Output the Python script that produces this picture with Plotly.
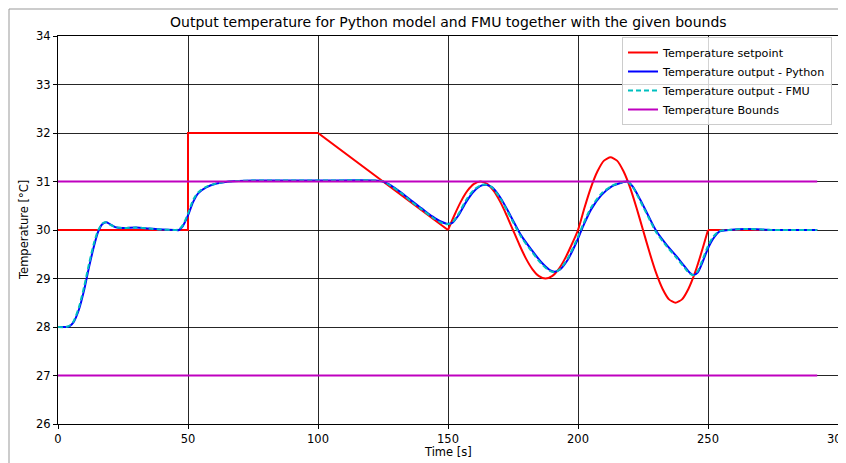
import plotly.graph_objects as go

# ---- data ----
t_set_a = [0, 50, 50, 100, 150]
y_set_a = [30, 30, 32, 32, 30]
t_set_b = [150, 152.5, 155, 157.5, 160, 162.5, 165, 167.5, 170, 172.5, 175,
           177.5, 180, 182.5, 185, 187.5, 190, 192.5, 195, 197.5, 200, 202.5, 205, 207.5, 210,
           212.5, 215, 217.5, 220, 222.5, 225, 227.5, 230, 232.5, 235, 237.5, 240, 242.5, 245,
           247.5, 250]
y_set_b = [30, 30.31, 30.59, 30.81, 30.95, 31.0, 30.95, 30.81, 30.59, 30.31, 30.0,
           29.69, 29.41, 29.19, 29.05, 29.0, 29.05, 29.19, 29.41, 29.69, 30.0, 30.46, 30.88, 31.21,
           31.43, 31.5, 31.43, 31.21, 30.88, 30.46, 30.0, 29.54, 29.12, 28.79, 28.57, 28.5, 28.57,
           28.79, 29.12, 29.54, 30.0]
t_set_c = [250, 292]
y_set_c = [30, 30]

t_py = [0, 3, 4.5, 6, 8, 10, 12, 14, 15.5, 17, 18.5, 20, 22, 25, 30, 35, 40, 45, 46.5, 48, 50,
        52, 54, 57, 61, 66, 75, 100, 122, 125, 128, 132, 136, 140, 144, 147, 149.5, 151.5, 154,
        157, 160, 163, 165, 167, 170, 174, 178, 182, 186, 189, 191, 193, 196, 199, 202, 205,
        209, 213, 217, 219, 221, 224, 227, 230, 234, 238, 241, 243, 244.5, 246, 248, 250, 252,
        254.5, 258, 265, 275, 292]
y_py = [28.0, 28.0, 28.02, 28.1, 28.35, 28.75, 29.25, 29.7, 29.97, 30.12, 30.16, 30.12, 30.06,
        30.04, 30.05, 30.03, 30.01, 30.0, 30.0, 30.08, 30.3, 30.58, 30.76, 30.88, 30.96, 31.0,
        31.02, 31.02, 31.02, 31.0, 30.92, 30.77, 30.6, 30.44, 30.28, 30.18, 30.13, 30.14, 30.3,
        30.58, 30.8, 30.92, 30.93, 30.88, 30.68, 30.3, 29.9, 29.6, 29.33, 29.18, 29.14, 29.18,
        29.38, 29.7, 30.08, 30.42, 30.72, 30.9, 30.98, 31.0, 30.9, 30.62, 30.3, 29.99, 29.7,
        29.45, 29.25, 29.12, 29.07, 29.12, 29.35, 29.62, 29.82, 29.97, 30.0, 30.02, 30.0, 30.0]

t_fmu = t_py
y_fmu = [28.0, 28.0, 28.03, 28.12, 28.4, 28.82, 29.32, 29.76, 30.0, 30.13, 30.16, 30.11, 30.06,
         30.04, 30.05, 30.03, 30.01, 30.0, 30.01, 30.1, 30.34, 30.62, 30.78, 30.89, 30.96, 31.0,
         31.02, 31.02, 31.02, 31.0, 30.91, 30.76, 30.58, 30.42, 30.26, 30.16, 30.12, 30.15, 30.33,
         30.62, 30.83, 30.93, 30.93, 30.87, 30.66, 30.27, 29.87, 29.57, 29.3, 29.16, 29.13, 29.19,
         29.41, 29.74, 30.12, 30.46, 30.75, 30.91, 30.99, 31.0, 30.89, 30.59, 30.27, 29.96, 29.67,
         29.42, 29.22, 29.1, 29.07, 29.15, 29.4, 29.67, 29.86, 29.98, 30.0, 30.02, 30.0, 30.0]

t_bounds = [0, 292]
upper_bound = [31, 31]
lower_bound = [27, 27]

x_ticks = [0, 50, 100, 150, 200, 250, 300]
y_ticks = [26, 27, 28, 29, 30, 31, 32, 33, 34]

FONT = "DejaVu Sans"
RED, BLUE, CYAN, MAG = "#ff0000", "#0000ff", "#00bfbf", "#bf00bf"

fig = go.Figure()
fig.add_trace(go.Scatter(x=t_set_a, y=y_set_a, mode="lines", name="Temperature setpoint",
                         legendgroup="sp", line=dict(color=RED, width=2)))
fig.add_trace(go.Scatter(x=t_set_b, y=y_set_b, mode="lines", name="Temperature setpoint",
                         legendgroup="sp", showlegend=False,
                         line=dict(color=RED, width=2, shape="spline", smoothing=0.6)))
fig.add_trace(go.Scatter(x=t_set_c, y=y_set_c, mode="lines", name="Temperature setpoint",
                         legendgroup="sp", showlegend=False, line=dict(color=RED, width=2)))
fig.add_trace(go.Scatter(x=t_py, y=y_py, mode="lines", name="Temperature output - Python",
                         line=dict(color=BLUE, width=2, shape="spline", smoothing=0.8)))
fig.add_trace(go.Scatter(x=t_fmu, y=y_fmu, mode="lines", name="Temperature output - FMU",
                         line=dict(color=CYAN, width=2, dash="5px,3px", shape="spline",
                                   smoothing=0.8)))
fig.add_trace(go.Scatter(x=t_bounds, y=upper_bound, mode="lines", name="Temperature Bounds",
                         legendgroup="b", line=dict(color=MAG, width=2)))
fig.add_trace(go.Scatter(x=t_bounds, y=lower_bound, mode="lines", name="Temperature Bounds",
                         legendgroup="b", showlegend=False, line=dict(color=MAG, width=2)))

TICKFONT = dict(family=FONT, size=11.5, color="black")
axis_common = dict(showline=True, linecolor="black", linewidth=1, mirror=True,
                   ticks="outside", ticklen=4, tickcolor="black", tickwidth=1,
                   showgrid=True, gridcolor="rgba(0,0,0,0.85)", gridwidth=1,
                   zeroline=False, automargin=False, tickfont=TICKFONT,
                   ticklabeloverflow="allow")

fig.update_xaxes(range=[0, 300], tickvals=x_ticks, ticktext=[str(v) for v in x_ticks],
                 **axis_common)
fig.update_yaxes(range=[26, 34], tickvals=y_ticks, ticktext=[str(v) for v in y_ticks],
                 **axis_common)

# the page has an 8px body margin, so figure pixel = screen pixel - 8
OFF = 8
W, H = 846 - OFF, 463 - OFF
L, T = 58 - OFF, 36 - OFF
R = W - (838 - OFF)
B = H - (424 - OFF)
PW, PH = W - L - R, H - T - B

def px_x(sx):
    return (sx - OFF - L) / PW

def px_y(sy):
    return (H - B - (sy - OFF)) / PH

fig.update_layout(
    width=W, height=H,
    margin=dict(l=L, r=R, t=T, b=B, pad=0, autoexpand=False),
    paper_bgcolor="white", plot_bgcolor="white",
    font=dict(family=FONT, size=11.5, color="black"),
    legend=dict(x=px_x(832), y=px_y(37), xanchor="right", yanchor="top",
                bgcolor="rgba(255,255,255,0.8)", bordercolor="#cccccc", borderwidth=1,
                font=dict(family=FONT, size=11.2, color="black"),
                tracegroupgap=0, itemwidth=30),
    annotations=[
        dict(text="Output temperature for Python model and FMU together with the given bounds",
             xref="paper", yref="paper", x=0.5, y=px_y(22), xanchor="center", yanchor="middle",
             showarrow=False, font=dict(family=FONT, size=14, color="black")),
        dict(text="Time [s]", xref="paper", yref="paper", x=0.5, y=px_y(452),
             xanchor="center", yanchor="middle", showarrow=False,
             font=dict(family=FONT, size=11.5, color="black")),
        dict(text="Temperature [°C]", xref="paper", yref="paper", x=px_x(24), y=0.5,
             xanchor="center", yanchor="middle", textangle=-90, showarrow=False,
             font=dict(family=FONT, size=11.5, color="black")),
    ],
    shapes=[
        dict(type="line", xref="paper", yref="paper", x0=px_x(9), x1=px_x(900), y0=px_y(9), y1=px_y(9),
             line=dict(color="#999999", width=1), layer="below"),
        dict(type="line", xref="paper", yref="paper", x0=px_x(9), x1=px_x(9), y0=px_y(500), y1=px_y(9),
             line=dict(color="#999999", width=1), layer="below"),
    ],
)

fig.write_html("out.html")
